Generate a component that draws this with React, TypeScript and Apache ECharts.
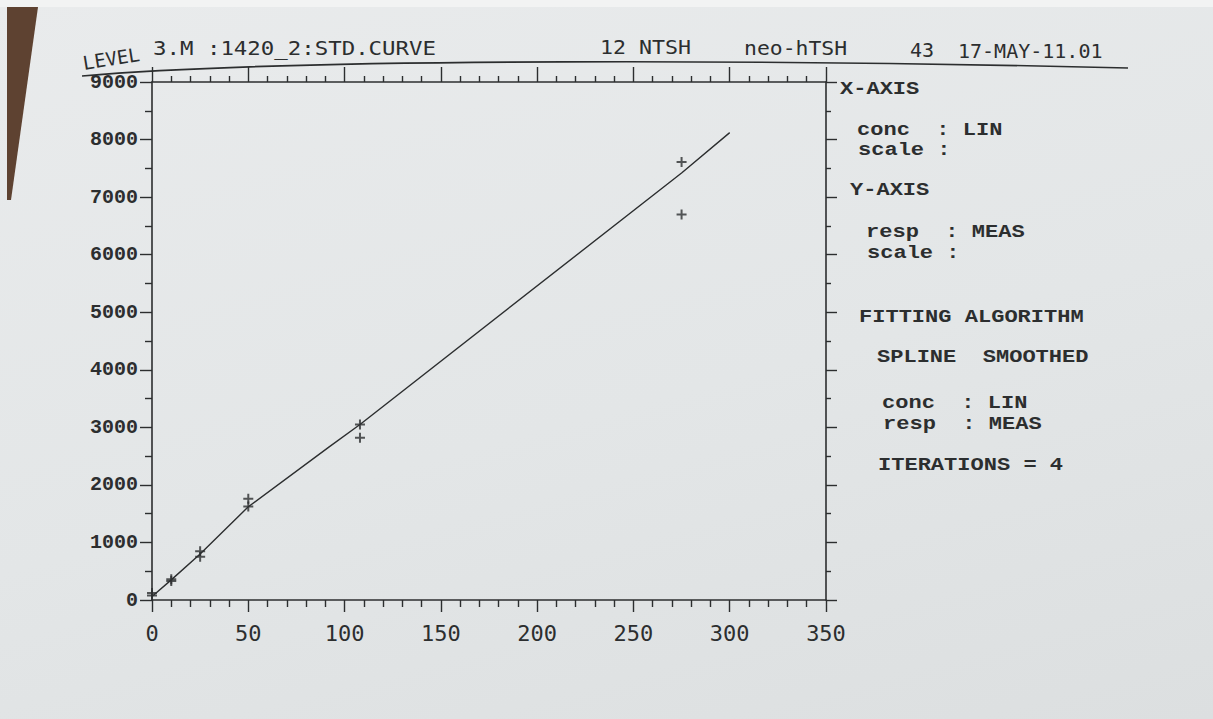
import React, { useEffect, useRef } from "react";
import * as echarts from "echarts";

// ---- data ----
const stdConc = [0, 0, 10, 10, 25, 25, 50, 50, 108, 108, 275, 275];
const stdResp = [80, 120, 330, 360, 750, 845, 1625, 1760, 2820, 3050, 7610, 6700];

const curveConc = [0, 10, 25, 50, 92, 108, 275, 300];
const curveResp = [60, 350, 800, 1620, 2660, 3050, 7420, 8120];

const xMin = 0;
const xMax = 350;
const xStep = 50;
const yMin = 0;
const yMax = 9000;
const yStep = 1000;

const headerTexts = [
  "LEVEL",
  "3.M :1420_2:STD.CURVE",
  "12 NTSH",
  "neo-hTSH",
  "43",
  "17-MAY-11.01",
];

const sideTexts = [
  "X-AXIS",
  "conc  : LIN",
  "scale :",
  "Y-AXIS",
  "resp  : MEAS",
  "scale :",
  "FITTING ALGORITHM",
  "SPLINE  SMOOTHED",
  "conc  : LIN",
  "resp  : MEAS",
  "ITERATIONS = 4",
];

// ---- layout / style ----
const INK = "#2c2e2f";
const headerPos = [
  { x: 83, y: 63, r: 0.16, s: 1.0, f: 19 },
  { x: 153, y: 48, r: 0, s: 1.12, f: 20 },
  { x: 600, y: 47, r: 0, s: 1.08, f: 20 },
  { x: 744, y: 48, r: 0, s: 1.07, f: 20 },
  { x: 910, y: 50, r: 0, s: 1.0, f: 20 },
  { x: 958, y: 51, r: 0, s: 1.0, f: 20 },
];
const sidePos = [
  [840, 89],
  [857, 130],
  [858, 150],
  [850, 190],
  [866, 232],
  [867, 253],
  [859, 317],
  [877, 357],
  [882, 403],
  [883, 424],
  [878, 465],
];

export default function App() {
  const ref = useRef<HTMLDivElement>(null);

  useEffect(() => {
    if (!ref.current) return;
    const chart = echarts.init(ref.current, null, { renderer: "svg" });

    const tickStyle = { color: INK, width: 1.4 };
    const lineStyle = { color: INK, width: 1.6 };

    const graphics: any[] = [
      {
        type: "rect",
        shape: { x: 0, y: 0, width: 1213, height: 7 },
        style: { fill: "#f2f3f3" },
        silent: true,
      },
      {
        type: "polygon",
        shape: { points: [[7, 7], [38, 7], [11, 200], [7, 200]] },
        style: { fill: "#5e4231" },
        silent: true,
      },
      {
        type: "bezierCurve",
        shape: { x1: 82, y1: 76, cpx1: 300, cpy1: 57, cpx2: 800, cpy2: 60, x2: 1128, y2: 68 },
        style: { stroke: INK, lineWidth: 1.6, fill: "none" },
        silent: true,
      },
    ];

    headerTexts.forEach((t, i) => {
      const p = headerPos[i];
      graphics.push({
        type: "text",
        x: p.x,
        y: p.y,
        rotation: p.r,
        scaleX: p.s,
        style: {
          text: t,
          fill: INK,
          fontFamily: "DejaVu Sans Mono",
          fontSize: p.f,
          verticalAlign: "middle",
          align: "left",
        },
        silent: true,
      });
    });

    sideTexts.forEach((t, i) => {
      const p = sidePos[i];
      graphics.push({
        type: "text",
        x: p[0],
        y: p[1],
        scaleX: 1.16,
        style: {
          text: t,
          fill: INK,
          fontFamily: "Liberation Mono",
          fontWeight: "bold",
          fontSize: 19,
          verticalAlign: "middle",
          align: "left",
        },
        silent: true,
      });
    });

    const xBase = {
      type: "value",
      min: xMin,
      max: xMax,
      interval: xStep,
      splitLine: { show: false },
      minorSplitLine: { show: false },
    };
    const yBase = {
      type: "value",
      min: yMin,
      max: yMax,
      interval: yStep,
      splitLine: { show: false },
      minorSplitLine: { show: false },
    };

    chart.setOption({
      animation: false,
      backgroundColor: "transparent",
      grid: { left: 152, top: 82, width: 674, height: 518 },
      xAxis: [
        {
          ...xBase,
          position: "bottom",
          axisLine: { show: true, onZero: false, lineStyle },
          axisTick: { show: true, length: 12, lineStyle: tickStyle },
          minorTick: { show: true, splitNumber: 5, length: 7, lineStyle: tickStyle },
          axisLabel: {
            margin: 22,
            color: INK,
            fontFamily: "DejaVu Sans Mono",
            fontSize: 22,
            formatter: (v: number) => String(v),
          },
        },
        {
          ...xBase,
          position: "top",
          axisLine: { show: true, onZero: false, lineStyle },
          axisTick: { show: true, length: 15, lineStyle: tickStyle },
          minorTick: { show: true, splitNumber: 5, length: 6, lineStyle: tickStyle },
          axisLabel: { show: false },
        },
      ],
      yAxis: [
        {
          ...yBase,
          position: "left",
          axisLine: { show: true, onZero: false, lineStyle },
          axisTick: { show: true, length: 12, lineStyle: tickStyle },
          minorTick: { show: true, splitNumber: 2, length: 7, lineStyle: tickStyle },
          axisLabel: {
            margin: 14,
            color: INK,
            fontFamily: "Liberation Mono",
            fontWeight: "bold",
            fontSize: 20,
            formatter: (v: number) => String(v),
          },
        },
        {
          ...yBase,
          position: "right",
          axisLine: { show: true, onZero: false, lineStyle },
          axisTick: { show: true, length: 11, lineStyle: tickStyle },
          minorTick: { show: true, splitNumber: 2, length: 5, lineStyle: tickStyle },
          axisLabel: { show: false },
        },
      ],
      series: [
        {
          type: "line",
          xAxisIndex: 0,
          yAxisIndex: 0,
          data: curveConc.map((c, i) => [c, curveResp[i]]),
          symbol: "none",
          showSymbol: false,
          smooth: false,
          lineStyle: { color: INK, width: 1.4 },
          z: 2,
        },
        {
          type: "scatter",
          xAxisIndex: 0,
          yAxisIndex: 0,
          data: stdConc.map((c, i) => [c, stdResp[i]]),
          symbol: "path://M4,0H6V4H10V6H6V10H4V6H0V4H4Z",
          symbolSize: 10,
          itemStyle: { color: INK },
          z: 3,
        },
      ],
      graphic: graphics,
    });

    return () => chart.dispose();
  }, []);

  return (
    <div
      ref={ref}
      style={{
        position: "fixed",
        left: 0,
        top: 0,
        width: 1213,
        height: 719,
        background: "linear-gradient(165deg, #e9ebec 0%, #e3e6e7 55%, #dcdfe0 100%)",
      }}
    />
  );
}
